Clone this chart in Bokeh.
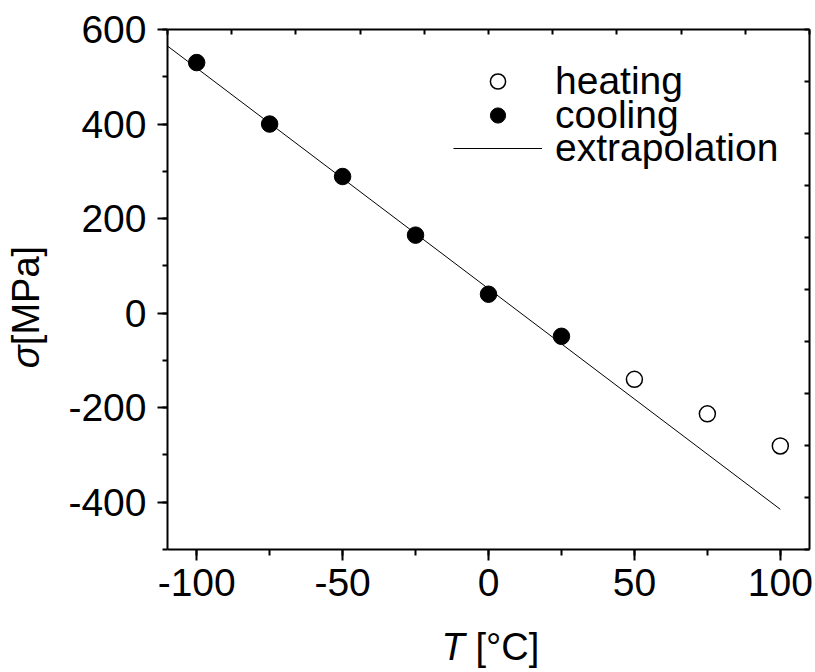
import math
from bokeh.plotting import figure
from bokeh.models import (Range1d, LinearAxis, SingleIntervalTicker, FixedTicker,
                          Legend, LegendItem, Label, NumeralTickFormatter)
from bokeh.embed import file_html
from bokeh.resources import INLINE

# ---- data ----
cool_T = [-100, -75, -50, -25, 0, 25]
cool_s = [530, 400, 289, 165, 40, -49]
heat_T = [50, 75, 100]
heat_s = [-140, -213, -281]
extra_T = [-110, 100]
extra_s = [565, -415]

x_min, x_max = -110, 110
y_min, y_max = -500, 600
FONT = "Liberation Sans"

p = figure(width=815, height=672, output_backend="svg", toolbar_location=None,
           x_range=Range1d(x_min, x_max), y_range=Range1d(y_min, y_max),
           min_border_left=167, min_border_right=6, min_border_top=29,
           min_border_bottom=123, x_axis_type=None, y_axis_type=None)
p.outline_line_color = None
p.xgrid.visible = False
p.ygrid.visible = False
p.background_fill_color = "white"
p.border_fill_color = "white"

def style(ax, tick_in, tick_out, minor_in, minor_out, labels=True):
    ax.axis_line_width = 2
    ax.axis_line_color = "black"
    ax.major_tick_line_width = 2
    ax.minor_tick_line_width = 2
    ax.major_tick_in = tick_in
    ax.major_tick_out = tick_out
    ax.minor_tick_in = minor_in
    ax.minor_tick_out = minor_out
    ax.major_tick_line_color = "black"
    ax.minor_tick_line_color = "black"
    if labels:
        ax.formatter = NumeralTickFormatter(format="0")
        ax.major_label_text_font = FONT
        ax.major_label_text_font_size = "39px"
        ax.major_label_text_color = "black"
    else:
        ax.major_label_text_font_size = "0px"
        ax.major_label_standoff = 0

xb = LinearAxis(ticker=SingleIntervalTicker(interval=50, num_minor_ticks=2))
style(xb, 0, 11, 0, 6)
xb.major_label_standoff = 8
p.add_layout(xb, "below")

yl = LinearAxis(ticker=SingleIntervalTicker(interval=200, num_minor_ticks=2))
style(yl, 0, 10, 0, 5)
yl.major_label_standoff = 11
p.add_layout(yl, "left")

top_ticks = [x_min + i * (x_max - x_min) / 10 for i in range(11)]
xt = LinearAxis(ticker=FixedTicker(ticks=top_ticks, minor_ticks=[]))
style(xt, 5, 0, 0, 0, labels=False)
p.add_layout(xt, "above")

right_ticks = [y_min + i * (y_max - y_min) / 10 for i in range(11)]
yr = LinearAxis(ticker=FixedTicker(ticks=right_ticks, minor_ticks=[]))
style(yr, 5, 0, 0, 0, labels=False)
p.add_layout(yr, "right")

r_line = p.line(extra_T, extra_s, line_color="black", line_width=1)
r_cool = p.scatter(cool_T, cool_s, marker="circle", size=16.5,
                   fill_color="black", line_color="black")
r_heat = p.scatter(heat_T, heat_s, marker="circle", size=16,
                   fill_color="white", line_color="black", line_width=1.5)

# one single-entry legend per row so the rows can sit closer than the text height
legend_rows = [("heating", r_heat, 446), ("cooling", r_cool, 412),
               ("extrapolation", r_line, 379)]
for name, rend, vy in legend_rows:
    lg = Legend(items=[LegendItem(label=name, renderers=[rend])],
                location=(286, vy), margin=0, padding=0,
                glyph_width=89, glyph_height=38, label_standoff=13,
                label_text_font=FONT, label_text_font_size="39px",
                label_text_color="black",
                border_line_color=None, background_fill_alpha=0)
    p.add_layout(lg, "center")

# axis titles: labels live in side panels (not clipped to the frame)
def title_part(text, x, y, dx, dy, italic=False, angle=0.0):
    return Label(x=x, y=y, x_offset=dx, y_offset=dy, text=text, angle=angle,
                 text_font=FONT, text_font_style="italic" if italic else "normal",
                 text_font_size="38px", text_color="black",
                 text_baseline="alphabetic", text_align="left")

p.add_layout(title_part("T", 0, y_min, -47, -97, italic=True), "left")
p.add_layout(title_part("[°C]", 0, y_min, -13, -97), "below")
p.add_layout(title_part("σ", x_min, 0, -142, -55, italic=True, angle=math.pi / 2), "above")
p.add_layout(title_part("[MPa]", x_min, 0, -142, -32, angle=math.pi / 2), "left")

open("out.html", "w").write(file_html(p, INLINE))
